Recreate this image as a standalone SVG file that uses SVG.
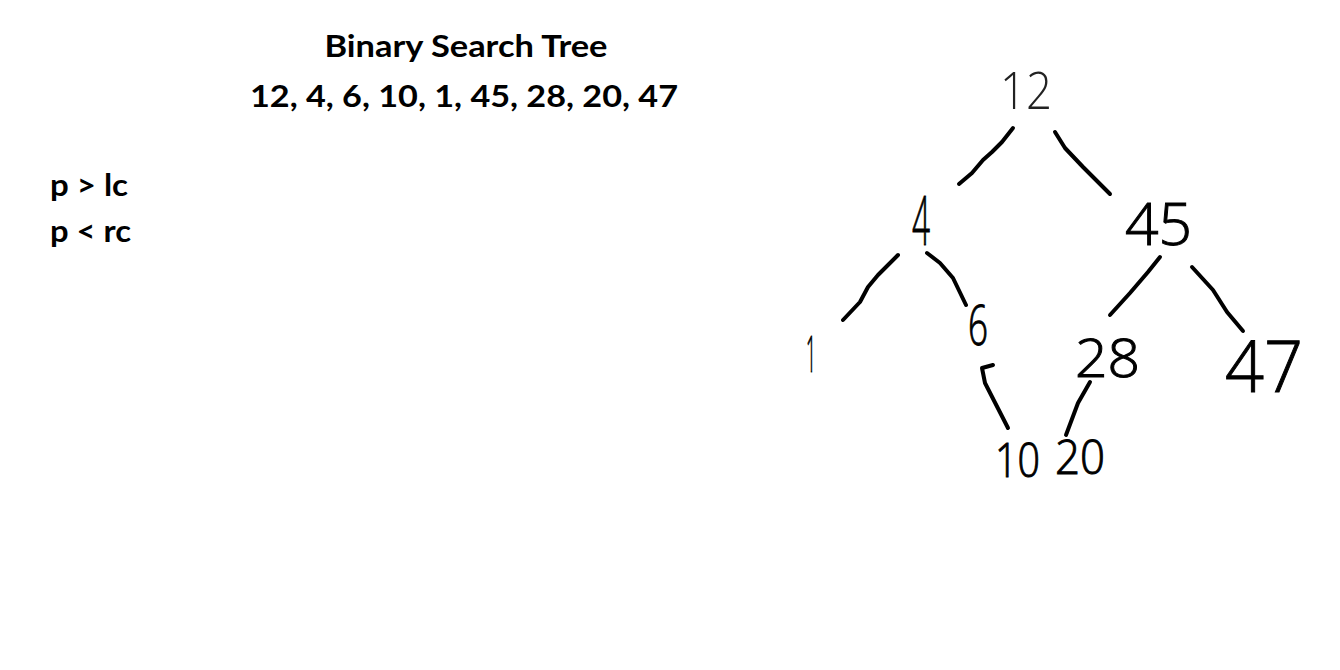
<svg xmlns="http://www.w3.org/2000/svg" width="1340" height="670" viewBox="0 0 1340 670">
<style>
.hdr{font-family:Lato,"Open Sans","Liberation Sans",sans-serif;font-weight:bold;fill:#000}
.hand{font-family:"Open Sans","Liberation Sans",sans-serif;font-weight:300;fill:#000;stroke:#000;stroke-width:1}
.thin{font-family:"Open Sans","Liberation Sans",sans-serif;font-weight:300;fill:#222}
.edge{fill:none;stroke:#000;stroke-width:4;stroke-linecap:round;stroke-linejoin:round}
</style>
<rect width="1340" height="670" fill="#fff"/>
<g id="title">
<text class="hdr" x="466" y="57" font-size="31" text-anchor="middle" textLength="283" lengthAdjust="spacingAndGlyphs">Binary Search Tree</text>
<text class="hdr" x="464" y="107" font-size="31" text-anchor="middle" textLength="428" lengthAdjust="spacingAndGlyphs">12, 4, 6, 10, 1, 45, 28, 20, 47</text>
</g>
<g id="rules">
<text class="hdr" x="50" y="196" font-size="30" textLength="78" lengthAdjust="spacingAndGlyphs">p &gt; lc</text>
<text class="hdr" x="50" y="242" font-size="30" textLength="81" lengthAdjust="spacingAndGlyphs">p &lt; rc</text>
</g>
<g id="connectors">
<path class="edge" d="M1013,128 L1002,142 L992,152 L983,160 L972,173 L959,184"/>
<path class="edge" d="M1055,132 L1065,148 L1083,167 L1110,194"/>
<path class="edge" d="M898,255 L878,275 L868,287 L860,302 L843,320"/>
<path class="edge" d="M927,253 L940,263 L953,278 L966,305"/>
<path class="edge" d="M1160,257 L1148,272 L1130,293 L1110,315"/>
<path class="edge" d="M1192,267 L1213,290 L1227,312 L1243,331"/>
<path class="edge" d="M993,365 L982,368 L985,383 L1008,428"/>
<path class="edge" d="M1090,382 L1078,403 L1066,435"/>
</g>
<g id="n12"><text class="thin" x="1000" y="109" font-size="52" textLength="52" lengthAdjust="spacingAndGlyphs">12</text></g>
<g id="n4"><text class="hand" x="912" y="245" font-size="68" textLength="18" lengthAdjust="spacingAndGlyphs">4</text></g>
<g id="n45"><text class="hand" x="1125" y="245" font-size="58" textLength="67" lengthAdjust="spacingAndGlyphs">45</text></g>
<g id="n1"><text class="hand" x="806" y="372" font-size="50" textLength="10" lengthAdjust="spacingAndGlyphs">1</text></g>
<g id="n6"><text class="hand" x="968" y="345" font-size="55" textLength="20" lengthAdjust="spacingAndGlyphs">6</text></g>
<g id="n28"><text class="hand" x="1075" y="377" font-size="54" textLength="65" lengthAdjust="spacingAndGlyphs">28</text></g>
<g id="n47"><text class="hand" x="1225" y="392" font-size="72" textLength="78" lengthAdjust="spacingAndGlyphs">47</text></g>
<g id="n10"><text class="hand" x="995" y="477" font-size="48" textLength="45" lengthAdjust="spacingAndGlyphs">10</text></g>
<g id="n20"><text class="hand" x="1055" y="474" font-size="48" textLength="50" lengthAdjust="spacingAndGlyphs">20</text></g>
</svg>
